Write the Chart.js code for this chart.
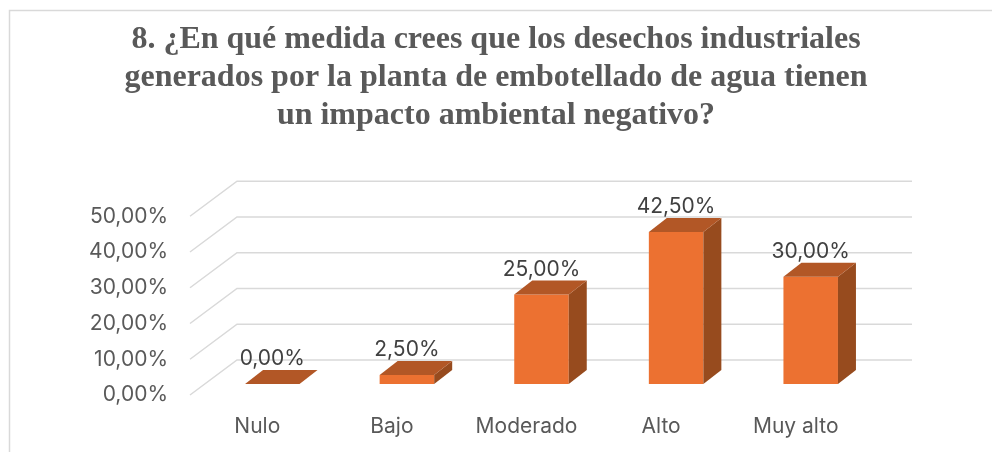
<!DOCTYPE html>
<html>
<head>
<meta charset="utf-8">
<style>html,body{margin:0;padding:0;background:#fff;overflow:hidden}canvas{display:block}</style>
<script src="https://cdn.jsdelivr.net/npm/chart.js@4"></script>
</head>
<body>
<canvas id="c" width="992" height="452"></canvas>
<script>
const categories = ["Nulo", "Bajo", "Moderado", "Alto", "Muy alto"];
const values = [0, 2.5, 25, 42.5, 30];
const titleLines = [
  "8. ¿En qué medida crees que los desechos industriales",
  "generados por la planta de embotellado de agua tienen",
  "un impacto ambiental negativo?"
];
const fmt = v => v.toFixed(2).replace(".", ",") + "%";

const WALL = {dx: 47, dy: -35};   // floor depth
const BAR_OFFSET = {dx: 15, dy: -11}; // bars stand inside the floor
const BAR_DEPTH = {dx: 18, dy: -14};
const UI = 'Inter, sans-serif';

const frame3d = {
  id: "frame3d",
  beforeDatasetsDraw(chart) {
    const {ctx, scales: {x, y}, chartArea: a} = chart;
    ctx.save();
    ctx.strokeStyle = "#D9D9D9";
    ctx.lineWidth = 1.5;
    // outer chart border
    ctx.beginPath();
    ctx.moveTo(9.5, 452); ctx.lineTo(9.5, 10.5); ctx.lineTo(992, 10.5);
    ctx.stroke();
    // floor diagonal + back wall gridline for every tick
    y.ticks.forEach(t => {
      const py = y.getPixelForValue(t.value);
      ctx.beginPath();
      ctx.moveTo(a.left, py);
      ctx.lineTo(a.left + WALL.dx, py + WALL.dy);
      ctx.lineTo(a.right + WALL.dx + 2, py + WALL.dy);
      ctx.stroke();
    });
    ctx.restore();
    ctx.save();
    ctx.translate(BAR_OFFSET.dx, BAR_OFFSET.dy);
  },
  afterDatasetsDraw(chart) {
    const {ctx} = chart;
    const meta = chart.getDatasetMeta(0);
    meta.data.forEach(b => {
      const l = b.x - b.width / 2, r = b.x + b.width / 2, top = b.y, base = b.base;
      ctx.fillStyle = "#974B1E";
      ctx.beginPath();
      ctx.moveTo(r, top); ctx.lineTo(r + BAR_DEPTH.dx, top + BAR_DEPTH.dy);
      ctx.lineTo(r + BAR_DEPTH.dx, base + BAR_DEPTH.dy); ctx.lineTo(r, base);
      ctx.closePath(); ctx.fill();
      ctx.fillStyle = "#B25726";
      ctx.beginPath();
      ctx.moveTo(l, top); ctx.lineTo(l + BAR_DEPTH.dx, top + BAR_DEPTH.dy);
      ctx.lineTo(r + BAR_DEPTH.dx, top + BAR_DEPTH.dy); ctx.lineTo(r, top);
      ctx.closePath(); ctx.fill();
    });
    ctx.restore();
    ctx.save();
    ctx.font = "21px " + UI;
    ctx.fillStyle = "#404040";
    ctx.textAlign = "center";
    ctx.textBaseline = "middle";
    meta.data.forEach((b, i) => {
      ctx.fillText(fmt(values[i]), b.x + BAR_OFFSET.dx, b.y + BAR_OFFSET.dy - 25);
    });
    ctx.restore();
  }
};

new Chart(document.getElementById("c"), {
  type: "bar",
  data: {
    labels: categories,
    datasets: [{
      data: values,
      backgroundColor: "#EC7131",
      borderWidth: 0,
      barPercentage: 0.405,
      categoryPercentage: 1
    }]
  },
  plugins: [frame3d],
  options: {
    responsive: false,
    animation: false,
    devicePixelRatio: 1,
    layout: {autoPadding: false, padding: 0},
    plugins: {
      legend: {display: false},
      tooltip: {enabled: false},
      title: {
        display: true,
        text: titleLines,
        color: "#595959",
        font: {family: '"Liberation Serif", serif', size: 32, weight: "bold", lineHeight: 1.19},
        padding: {top: 21, bottom: 81}
      }
    },
    scales: {
      x: {
        afterFit: s => { s.height = 57; },
        grid: {display: false, drawTicks: false},
        border: {display: false},
        ticks: {color: "#595959", font: {family: UI, size: 21}, padding: 19, maxRotation: 0, autoSkip: false}
      },
      y: {
        min: 0, max: 50,
        afterFit: s => { s.width = 190; },
        grid: {display: false, drawTicks: false},
        border: {display: false},
        ticks: {stepSize: 10, color: "#595959", font: {family: UI, size: 21}, padding: 22, callback: v => fmt(v)}
      },
      rightGutter: {
        position: "right",
        display: true,
        afterFit: s => { s.width = 129; },
        grid: {display: false, drawTicks: false},
        border: {display: false},
        ticks: {display: false}
      }
    }
  }
});
</script>
</body>
</html>
